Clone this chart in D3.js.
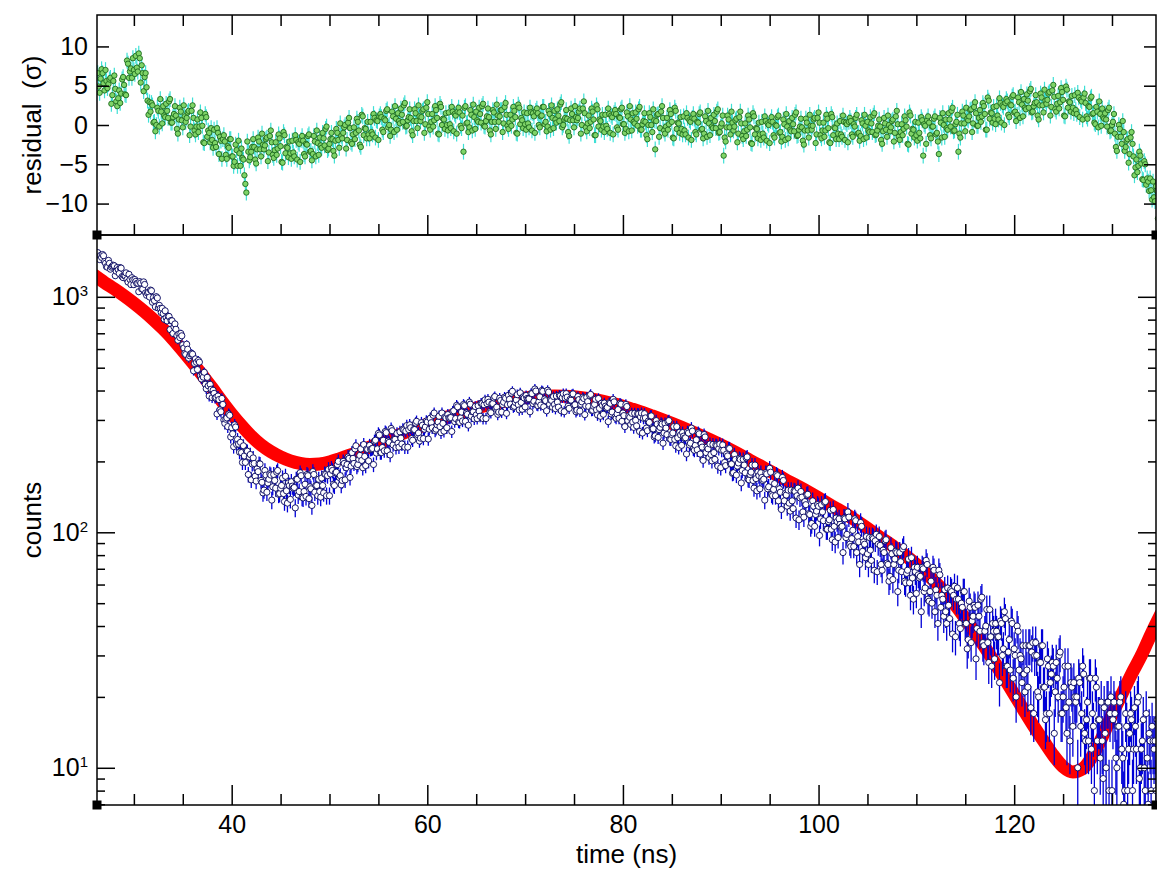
<!DOCTYPE html>
<html>
<head>
<meta charset="utf-8">
<script src="https://cdn.jsdelivr.net/npm/d3@7"></script>
<style>
  body { margin: 0; background: #fff; }
  svg text { font-family: "Liberation Sans", Arial, Helvetica, sans-serif; fill: #000; }
  .domain { display: none; }
  .tick line { stroke: #000; stroke-width: 1.5; }
</style>
</head>
<body>
<div id="chart"></div>
<script>
// time grid of the measured data (ns)
const timeStart = 26.3;
const timeStep = 0.1;

// measured counts, one value every 0.1 ns (one row of 10 per ns)
const counts = [
  1541,1477,1439,1500,1470,1512,1494,1410,1388,1342,
  1335,1428,1387,1310,1336,1350,1362,1354,1229,1284,
  1332,1304,1256,1330,1324,1219,1206,1231,1229,1264,
  1185,1155,1246,1185,1127,1205,1181,1126,1184,1163,
  1139,1143,1051,1160,1144,1081,1078,1157,1128,1039,
  1015,1037,1046,998,1068,1061,948,993,964,906,
  1001,989,896,920,893,857,893,848,803,872,
  816,790,828,825,726,793,791,699,745,767,
  728,684,654,695,671,699,683,625,606,575,
  569,629,599,549,562,572,575,571,485,521,
  545,527,491,537,528,462,448,464,456,478,
  425,407,455,419,379,425,405,373,401,389,
  372,374,318,379,366,331,325,370,349,300,
  290,302,306,281,318,314,254,278,262,231,
  286,280,236,248,237,219,241,218,198,233,
  211,198,222,221,176,209,214,167,195,207,
  196,173,165,186,181,196,195,166,163,147,
  151,183,175,148,162,168,177,175,137,156,
  176,166,154,180,183,145,146,154,158,170,
  146,135,173,150,133,162,158,138,164,157,
  154,155,127,168,168,144,149,179,174,141,
  140,149,160,142,176,174,139,156,153,130,
  181,176,148,158,158,143,168,149,141,170,
  158,147,177,176,143,174,185,143,177,187,
  183,160,158,179,180,194,200,171,174,159,
  166,200,196,167,188,194,209,206,171,191,
  218,206,196,226,233,190,194,204,212,226,
  202,188,236,210,192,226,225,201,234,225,
  226,227,194,244,246,217,226,263,259,218,
  218,229,246,222,268,265,222,244,241,213,
  276,270,235,248,248,229,263,239,230,267,
  251,237,274,272,230,269,284,230,273,286,
  278,250,246,273,273,291,296,260,264,244,
  251,292,285,250,274,280,297,294,249,274,
  305,292,278,314,321,270,274,286,294,311,
  281,265,321,290,269,309,306,278,316,306,
  305,307,268,326,328,295,304,346,341,294,
  293,306,324,297,349,345,296,321,317,285,
  357,350,311,325,325,303,342,315,304,345,
  327,311,353,352,304,348,365,304,352,367,
  357,325,322,351,352,372,377,336,340,317,
  324,371,363,324,349,357,375,371,320,348,
  382,367,350,390,397,340,343,356,365,384,
  348,331,391,356,333,376,372,341,381,370,
  367,369,325,388,388,352,360,406,398,347,
  345,358,376,347,400,397,341,368,362,328,
  401,394,350,365,363,340,377,349,335,379,
  357,340,382,380,328,373,388,325,372,388,
  375,343,336,367,364,385,387,346,348,325,
  330,377,366,327,350,358,374,370,316,344,
  374,359,342,381,385,329,330,343,349,367,
  331,315,370,336,311,353,346,317,354,343,
  337,339,295,355,353,318,324,367,358,309,
  305,318,332,305,353,350,296,321,313,281,
  349,342,298,312,308,287,320,294,279,320,
  299,283,319,318,268,309,321,264,305,319,
  306,277,270,297,293,312,312,275,275,254,
  257,298,288,253,273,279,291,288,239,264,
  290,277,260,295,298,249,248,260,264,281,
  248,233,281,252,229,266,259,234,265,256,
  251,252,215,267,264,235,239,277,269,226,
  223,234,247,224,265,262,215,237,230,202,
  260,254,218,230,226,208,237,214,201,236,
  218,204,235,233,191,227,237,188,223,235,
  223,198,192,215,211,227,227,195,195,178,
  179,214,204,175,191,197,206,204,162,183,
  204,193,179,207,209,168,167,176,180,193,
  166,154,193,169,150,180,174,153,179,171,
  166,168,137,179,177,153,156,187,180,145,
  143,152,161,143,176,174,136,153,148,125,
  171,166,136,146,144,129,151,133,123,151,
  136,126,150,149,115,143,154,113,140,149,
  141,122,116,135,131,144,145,120,119,106,
  109,136,129,106,119,123,131,129,97,114,
  131,122,112,134,135,103,103,111,113,124,
  103,93,125,106,91,115,111,95,114,108,
  105,106,82,115,114,95,98,122,116,89,
  87,94,102,87,114,112,82,96,91,73,
  110,106,83,91,89,78,96,81,73,95,
  84,76,95,94,69,92,98,68,89,96,
  88,73,69,84,82,92,93,74,73,62,
  65,86,81,63,73,77,83,82,56,69,
  82,75,68,85,87,62,61,67,69,77,
  61,54,78,64,52,71,68,55,71,66,
  64,65,46,71,70,56,58,76,73,52,
  51,56,62,50,71,69,46,57,54,41,
  69,66,48,54,52,44,57,46,41,58,
  49,43,57,56,37,54,59,36,52,58,
  52,41,39,50,48,56,56,41,41,32,
  35,51,48,34,42,44,49,48,29,39,
  49,44,38,52,53,34,33,38,40,47,
  34,28,47,36,27,41,38,29,41,38,
  36,36,23,42,41,30,32,46,43,27,
  27,31,35,26,42,41,24,32,30,20,
  40,38,26,30,29,23,33,25,21,33,
  26,22,33,33,18,31,34,17,30,34,
  30,21,20,28,28,33,33,22,22,16,
  17,29,27,17,23,25,28,27,14,21,
  28,24,20,30,31,17,17,20,22,27,
  18,14,27,19,13,23,22,15,23,20,
  19,20,10,24,23,15,17,27,25,14,
  13,16,19,13,24,24,12,17,15,8,
  24,22,13,16,16,11,19,13,9,18,
  14,10,19,19,8,17,20,8,16,19,
  17,11,10,15,15,19,20,12,11,7,
  8,17,15,8,12,14,17,16,8,12,
  18,15,12,19,20,9,10,12,13,16,
  10,8,17,11,7,14,13,8,15,13,
  12,13,8,16,16,10,11,19,17,8
];

// residuals in units of sigma, same time grid
const residual = [
  6.6,4.9,4.1,5.9,7.1,6.6,5.3,4.4,7.0,5.6,
  4.7,5.2,5.8,6.0,2.7,3.8,5.6,6.3,4.6,3.0,
  2.4,3.4,4.4,2.8,4.0,5.8,6.1,5.1,3.9,3.8,
  8.2,7.8,6.0,6.8,7.2,6.0,8.5,7.0,6.5,8.8,
  7.3,6.8,9.1,8.5,5.4,7.6,6.6,4.3,6.1,6.6,
  4.8,3.1,1.3,2.9,1.7,2.8,2.5,0.3,0.4,-0.8,
  0.0,2.2,1.8,-0.2,3.3,1.7,0.2,2.4,1.2,1.0,
  2.7,1.8,0.9,3.0,3.3,0.3,0.3,1.0,1.4,2.4,
  1.2,-0.5,-1.1,0.7,2.2,1.7,0.6,-0.3,2.5,1.1,
  0.4,0.9,1.6,1.8,-1.3,-0.2,1.8,2.5,0.9,-0.7,
  -1.2,-0.2,0.7,-0.9,-0.2,1.6,0.9,-0.1,-2.2,-2.3,
  1.4,1.0,-1.5,-0.7,-1.0,-2.2,-0.4,-1.9,-2.9,-0.6,
  -2.3,-2.8,-0.4,-1.0,-3.7,-1.5,-2.0,-4.3,-1.8,-1.3,
  -2.1,-3.8,-4.3,-2.7,-2.9,-1.8,-1.8,-4.0,-4.0,-5.2,
  -4.7,-2.5,-3.2,-5.2,-2.0,-3.6,-5.2,-3.0,-4.2,-4.4,
  -6.4,-7.5,-8.6,-2.1,-3.4,-4.5,-4.1,-3.4,-2.8,-1.8,
  -2.8,-4.4,-4.9,-3.1,-1.6,-2.1,-3.1,-4.0,-1.1,-2.5,
  -3.1,-2.6,-1.8,-1.6,-4.6,-3.5,-1.4,-0.7,-2.2,-3.8,
  -4.2,-3.2,-2.2,-3.8,-3.0,-1.2,-1.7,-2.7,-4.7,-4.8,
  -0.9,-1.3,-3.6,-2.8,-2.9,-4.1,-2.1,-3.6,-4.3,-2.0,
  -3.5,-4.0,-1.3,-1.9,-4.4,-2.2,-2.4,-4.7,-1.9,-1.4,
  -2.0,-3.7,-4.0,-2.4,-2.5,-1.4,-1.2,-3.4,-3.3,-4.5,
  -3.7,-1.4,-2.1,-4.0,-0.7,-2.3,-3.8,-1.6,-2.6,-2.9,
  -1.0,-1.7,-2.6,-0.5,-0.2,-3.2,-3.0,-2.4,-1.8,-1.0,
  -1.8,-3.3,-3.9,-2.0,-0.5,-1.0,-1.9,-2.9,0.2,-1.4,
  -1.7,-1.0,-0.3,0.0,-3.0,-1.9,0.3,0.9,-0.4,-2.2,
  -2.4,-1.2,-0.3,-1.8,-1.0,0.8,0.4,-0.7,-2.5,-2.8,
  1.3,1.1,-1.3,-0.4,-0.5,-1.7,0.4,-1.2,-1.7,0.4,
  -0.9,-1.2,1.4,0.9,-1.6,0.6,0.5,-1.9,1.1,1.4,
  1.0,-0.6,-0.9,0.8,0.6,1.8,2.0,-0.3,0.0,-1.4,
  -0.6,1.7,1.1,-0.9,2.4,0.8,-0.6,1.5,0.5,0.2,
  2.1,1.3,0.4,2.5,2.8,-0.2,-0.1,0.6,1.0,2.0,
  0.9,-0.8,-1.3,0.5,2.0,1.5,0.5,-0.4,2.5,1.1,
  0.5,1.0,1.8,2.0,-1.0,0.1,2.2,2.9,1.4,-0.2,
  -0.6,0.4,1.4,-0.2,0.6,2.4,1.9,0.9,-1.1,-1.2,
  2.7,2.3,0.0,0.8,0.7,-0.5,1.5,0.0,-0.7,1.6,
  0.1,-0.4,2.3,1.7,-0.8,1.4,1.2,-1.1,1.7,2.2,
  1.6,-0.1,-0.4,1.2,-3.4,2.2,2.4,0.2,0.3,-0.9,
  -0.3,1.9,1.3,-0.7,2.6,1.0,-0.5,1.7,0.6,0.4,
  2.2,1.4,0.3,2.4,2.7,-0.1,-0.2,0.5,1.1,2.1,
  1.0,-0.7,-1.2,0.4,1.9,1.6,0.4,-0.5,2.6,1.2,
  0.4,1.1,1.9,1.9,-0.9,0.2,2.3,2.8,1.3,-0.1,
  -0.5,0.3,1.3,-0.1,0.7,2.3,1.8,1.0,-1.0,-1.1,
  2.6,2.2,0.1,0.9,0.6,-0.4,1.6,0.1,-0.6,1.5,
  0.2,-0.3,2.2,1.6,-0.7,1.5,1.1,-1.0,1.8,2.1,
  1.5,0.0,-0.3,1.1,1.2,2.3,2.3,0.1,0.4,-0.8,
  -0.2,1.8,1.4,-0.6,2.5,0.9,-0.4,1.8,0.7,0.3,
  2.0,1.2,0.5,2.6,2.9,-0.3,0.0,0.7,0.9,1.9,
  0.8,-0.9,-1.4,0.6,2.1,1.4,0.6,-0.3,2.4,1.0,
  0.6,0.9,1.7,2.1,-1.1,0.0,2.1,3.0,1.5,-0.3,
  -0.8,0.2,1.2,-0.4,0.4,2.1,1.7,0.7,-1.3,-1.3,
  2.5,2.0,-0.2,0.7,0.5,-0.6,1.3,-0.2,-0.9,1.3,
  -0.1,-0.5,2.1,1.4,-1.0,1.2,1.0,-1.2,1.5,1.9,
  1.4,-0.3,-0.6,1.0,0.9,2.0,2.2,0.1,0.1,-1.0,
  -0.5,1.6,1.1,-0.8,2.4,0.7,-0.7,1.5,0.4,0.2,
  1.6,0.8,-0.1,2.0,2.3,-0.6,-0.6,0.1,0.5,1.5,
  0.4,-1.3,-1.8,0.0,1.5,1.0,0.0,-0.9,2.0,0.6,
  -3.1,0.5,1.3,1.4,-1.5,-0.4,1.7,2.4,0.9,-0.7,
  -1.1,-0.2,0.9,-0.6,0.1,1.9,1.4,0.4,-1.6,-1.7,
  2.2,1.8,-0.5,0.3,0.2,-1.0,1.0,-0.5,-1.2,1.1,
  -0.7,-1.2,1.5,0.9,-1.6,0.6,0.4,-1.9,0.9,1.4,
  0.8,-0.9,-1.2,0.4,0.3,1.4,1.6,-0.6,-0.5,-1.7,
  -1.1,1.1,0.5,-1.5,1.8,0.2,-1.3,0.9,-0.2,-0.4,
  1.3,0.5,-0.4,1.7,2.0,-1.0,-0.9,-0.2,0.2,1.2,
  -3.9,-1.6,-2.1,-0.3,1.2,0.7,-0.3,-1.2,1.7,0.3,
  -0.7,-0.2,0.6,0.8,-2.2,-1.1,1.0,1.7,0.2,-1.4,
  -1.8,-0.8,0.2,-1.4,-0.6,1.2,0.7,-0.3,-2.3,-2.4,
  1.5,1.1,-1.2,-0.4,-0.5,-1.7,0.3,-1.2,-1.9,0.4,
  -1.1,-1.6,1.1,0.5,-2.0,0.2,0.0,-2.3,0.5,1.0,
  0.4,-1.3,-1.6,0.0,-0.1,1.0,1.2,-1.0,-0.9,-2.1,
  -1.5,0.7,0.1,-1.9,1.4,-0.2,-1.7,0.5,-0.6,-0.8,
  0.9,0.1,-0.8,1.3,1.6,-1.4,-1.3,-0.6,-0.2,0.8,
  -0.3,-2.0,-2.5,-0.7,0.8,0.3,-0.7,-1.6,1.3,-0.1,
  -0.6,-0.1,0.7,0.9,-2.3,-1.2,0.9,1.6,0.3,-1.3,
  -1.7,-0.7,0.3,-1.5,-0.7,1.3,0.8,-0.4,-2.2,-2.3,
  1.4,1.0,-1.3,-0.3,-0.4,-1.8,0.2,-1.1,-1.8,0.5,
  -1.2,-1.5,1.2,0.4,-1.9,0.3,0.1,-2.2,0.4,0.9,
  0.5,-1.2,-1.5,0.1,-0.2,0.9,1.3,-1.1,-1.0,-2.0,
  -1.4,0.6,0.2,-1.8,1.3,-0.1,-1.6,0.4,-0.7,-0.9,
  1.0,0.2,-0.9,1.2,1.5,-1.3,-1.2,-0.7,-0.1,0.7,
  -0.2,-1.9,-2.4,-0.8,0.9,0.2,-0.6,-1.5,1.2,0.0,
  -0.8,-0.3,0.5,0.7,-2.1,-1.0,1.1,1.8,0.1,-1.5,
  -1.9,-0.9,0.1,-1.3,-0.5,1.1,0.6,-0.2,-2.4,-2.5,
  1.6,1.2,-1.1,-0.5,-0.6,-1.6,0.4,-1.3,-2.0,0.3,
  -1.0,-1.7,1.0,0.6,-3.9,0.1,-0.1,-2.4,0.6,1.1,
  0.3,-1.3,-1.7,-0.2,-0.2,0.8,1.1,-1.2,-1.0,-2.1,
  -3.7,0.9,0.3,-1.6,1.5,0.0,-1.5,0.7,-0.4,-0.6,
  1.5,0.7,-0.2,1.8,2.2,-0.8,-0.7,0.1,0.4,1.3,
  -3.4,-1.1,-1.6,0.2,1.7,1.2,0.2,-0.8,2.2,0.8,
  0.6,1.1,1.9,2.0,-0.9,0.2,2.3,2.9,1.5,-0.1,
  -0.1,0.9,1.9,0.4,1.1,2.8,2.4,1.4,-0.6,-0.6,
  3.5,3.1,0.8,1.6,1.5,0.3,2.3,0.8,0.1,2.4,
  1.2,0.7,3.4,2.8,0.3,2.5,2.3,0.0,2.8,3.3,
  3.0,1.3,1.0,2.6,2.5,3.6,3.8,1.6,1.7,0.5,
  1.3,3.5,2.9,0.9,4.2,2.6,1.1,3.3,2.2,2.0,
  3.9,3.1,2.2,4.3,4.6,1.6,1.7,2.4,2.8,3.8,
  2.9,1.2,0.7,2.5,4.0,3.5,2.5,1.6,4.5,3.1,
  2.7,3.2,4.0,4.2,1.2,2.3,4.4,5.1,3.6,2.0,
  1.7,2.7,3.7,2.1,2.9,4.7,4.2,3.2,1.2,1.1,
  4.9,4.5,2.2,3.0,2.9,1.7,3.7,2.2,1.5,3.8,
  1.9,1.4,4.1,3.5,1.0,3.2,3.0,0.7,3.5,4.0,
  2.8,1.1,0.8,2.4,2.3,3.4,3.6,1.4,1.5,0.3,
  0.1,2.3,1.7,-0.3,3.0,1.4,-0.1,2.1,1.0,0.8,
  1.5,0.7,-0.2,1.9,2.2,-0.8,-0.7,0.0,0.4,1.4,
  -1.1,-2.8,-3.3,-1.5,0.0,-0.5,-1.5,-2.4,0.5,-0.9,
  -3.3,-2.8,-2.0,-1.8,-4.8,-3.7,-1.6,-0.9,-2.4,-4.0,
  -6.4,-5.4,-4.4,-6.0,-5.2,-3.4,-3.9,-4.9,-6.9,-7.0,
  -4.6,-5.0,-7.6,-6.8,-7.2,-8.4,-6.8,-8.3,-9.5,-7.2,
  -9.2,-9.7,-7.8,-8.4,-11.9,-9.7,-11.1,-13.4,-11.6,-11.1
];

// model curve (red), one value per ns from 26 to 135
const fitStart = 26;
const fitValues = [
  1230,1150,1080,1010,940,870,800,730,660,590,
  525,465,410,360,318,284,256,235,220,209,
  201,196,194,195,199,205,212,220,229,238,
  248,258,268,278,288,298,308,318,328,337,
  346,354,361,367,372,376,378,379,378,376,
  372,367,360,352,343,333,323,312,301,290,
  279,268,257,246,235,224,213,202,192,182,
  173,164,156,148,140,132,125,118,111,104,
  97,91,85,79,73,67,61,55,49,43,
  37.5,32.5,28,24,20.5,17.5,15,13,11.3,10.1,
  9.6,9.9,11.2,13.5,16.8,20.5,25,30,37,45
];

const xMajor = [40, 60, 80, 100, 120];
const xMinor = [30, 35, 45, 50, 55, 65, 70, 75, 85, 90, 95, 105, 110, 115, 125, 130];
const resTicks = [-10, -5, 0, 5, 10];
const cntMajor = [10, 100, 1000];

const width = 1157, height = 869;
const left = 97, right = 1156, topY = 15, midY = 235, bottomY = 805;

const x = d3.scaleLinear().domain([26.23, 134.5]).range([left, right]);
const yRes = d3.scaleLinear().domain([-14, 14]).range([midY, topY]);
const yCnt = d3.scaleLog().domain([6.95, 1830]).range([bottomY, midY]);

const cntMinor = [];
[1, 10, 100, 1000].forEach(d => {
  for (let k = 2; k <= 9; k++) {
    const v = d * k;
    if (v >= 6.95 && v <= 1830) cntMinor.push(v);
  }
});

const data = counts.map((c, i) => ({
  t: timeStart + i * timeStep,
  c: c,
  err: Math.sqrt(c),           // Poisson error
  r: residual[i]
}));
const fit = fitValues.map((v, i) => ({ t: fitStart + i, v: v }));

const svg = d3.select('#chart').append('svg')
  .attr('width', width)
  .attr('height', height);

const defs = svg.append('defs');
defs.append('clipPath').attr('id', 'clip-top')
  .append('rect').attr('x', left).attr('y', topY).attr('width', right - left).attr('height', midY - topY);
defs.append('clipPath').attr('id', 'clip-bottom')
  .append('rect').attr('x', left).attr('y', midY).attr('width', right - left).attr('height', bottomY - midY);

// ---- residual panel ----
const gTop = svg.append('g').attr('clip-path', 'url(#clip-top)');

gTop.selectAll('line.rerr')
  .data(data)
  .enter()
  .append('line')
  .attr('class', 'rerr')
  .attr('x1', d => x(d.t))
  .attr('x2', d => x(d.t))
  .attr('y1', d => yRes(d.r - 1))
  .attr('y2', d => yRes(d.r + 1))
  .attr('stroke', '#3ee0d6')
  .attr('stroke-width', 1.2);

gTop.selectAll('circle')
  .data(data)
  .enter()
  .append('circle')
  .attr('cx', d => x(d.t))
  .attr('cy', d => yRes(d.r))
  .attr('r', 2.7)
  .attr('fill', '#7fd468')
  .attr('stroke', '#1d6a1d')
  .attr('stroke-width', 0.9);

// ---- counts panel ----
const gBot = svg.append('g').attr('clip-path', 'url(#clip-bottom)');

const line = d3.line()
  .x(d => x(d.t))
  .y(d => yCnt(d.v))
  .curve(d3.curveMonotoneX);

gBot.append('path')
  .datum(fit)
  .attr('d', line)
  .attr('fill', 'none')
  .attr('stroke', '#ff0000')
  .attr('stroke-width', 13)
  .attr('stroke-linecap', 'round')
  .attr('stroke-linejoin', 'round');

gBot.selectAll('line.cerr')
  .data(data)
  .enter()
  .append('line')
  .attr('class', 'cerr')
  .attr('x1', d => x(d.t))
  .attr('x2', d => x(d.t))
  .attr('y1', d => yCnt(Math.max(d.c - d.err, 1)))
  .attr('y2', d => yCnt(d.c + d.err))
  .attr('stroke', '#0000d8')
  .attr('stroke-width', 1.3);

gBot.selectAll('circle')
  .data(data)
  .enter()
  .append('circle')
  .attr('cx', d => x(d.t))
  .attr('cy', d => yCnt(d.c))
  .attr('r', 3.1)
  .attr('fill', '#ffffff')
  .attr('stroke', '#00005a')
  .attr('stroke-width', 0.9);

// ---- axes ----
const noLabel = () => '';

// residual panel x ticks (top and bottom edges, pointing inward)
svg.append('g').attr('transform', `translate(0,${topY})`)
  .call(d3.axisTop(x).tickValues(xMajor).tickSize(-20).tickFormat(noLabel));
svg.append('g').attr('transform', `translate(0,${topY})`)
  .call(d3.axisTop(x).tickValues(xMinor).tickSize(-11).tickFormat(noLabel));
svg.append('g').attr('transform', `translate(0,${midY})`)
  .call(d3.axisBottom(x).tickValues(xMajor).tickSize(-20).tickFormat(noLabel));
svg.append('g').attr('transform', `translate(0,${midY})`)
  .call(d3.axisBottom(x).tickValues(xMinor).tickSize(-11).tickFormat(noLabel));

// residual panel y ticks
svg.append('g').attr('transform', `translate(${left},0)`)
  .call(d3.axisLeft(yRes).tickValues(resTicks).tickSize(-12).tickPadding(9))
  .selectAll('text').style('font-size', '25px');
svg.append('g').attr('transform', `translate(${right},0)`)
  .call(d3.axisRight(yRes).tickValues(resTicks).tickSize(-12).tickFormat(noLabel));

// counts panel x axis
svg.append('g').attr('transform', `translate(0,${bottomY})`)
  .call(d3.axisBottom(x).tickValues(xMajor).tickSize(-20).tickPadding(10).tickFormat(d3.format('d')))
  .selectAll('text').style('font-size', '25px');
svg.append('g').attr('transform', `translate(0,${bottomY})`)
  .call(d3.axisBottom(x).tickValues(xMinor).tickSize(-11).tickFormat(noLabel));

// counts panel log y axis
const yLeft = svg.append('g').attr('transform', `translate(${left},0)`)
  .call(d3.axisLeft(yCnt).tickValues(cntMajor).tickSize(-18).tickPadding(9).tickFormat(noLabel));
yLeft.selectAll('.tick text')
  .style('font-size', '25px')
  .text('10')
  .append('tspan')
  .attr('dy', '-0.6em')
  .style('font-size', '15px')
  .text(d => Math.round(Math.log10(d)));
svg.append('g').attr('transform', `translate(${left},0)`)
  .call(d3.axisLeft(yCnt).tickValues(cntMinor).tickSize(-8).tickFormat(noLabel));
svg.append('g').attr('transform', `translate(${right},0)`)
  .call(d3.axisRight(yCnt).tickValues(cntMajor).tickSize(-18).tickFormat(noLabel));
svg.append('g').attr('transform', `translate(${right},0)`)
  .call(d3.axisRight(yCnt).tickValues(cntMinor).tickSize(-8).tickFormat(noLabel));

// frames
const frame = svg.append('g').attr('fill', 'none').attr('stroke', '#000').attr('stroke-width', 1.5);
frame.append('rect').attr('x', left).attr('y', topY).attr('width', right - left).attr('height', midY - topY);
frame.append('rect').attr('x', left).attr('y', midY).attr('width', right - left).attr('height', bottomY - midY);

// corner handles of the selected graph
svg.selectAll('rect.handle')
  .data([[left, midY], [right, midY], [left, bottomY], [right, bottomY]])
  .enter()
  .append('rect')
  .attr('class', 'handle')
  .attr('x', d => d[0] - 4.5)
  .attr('y', d => d[1] - 4.5)
  .attr('width', 9)
  .attr('height', 9)
  .attr('fill', '#000');

// axis titles
svg.append('text')
  .attr('transform', `translate(41, ${(topY + midY) / 2}) rotate(-90)`)
  .attr('text-anchor', 'middle')
  .style('font-size', '26px')
  .style('white-space', 'pre')
  .text('residual  (σ)');

svg.append('text')
  .attr('transform', `translate(41, ${(midY + bottomY) / 2}) rotate(-90)`)
  .attr('text-anchor', 'middle')
  .style('font-size', '26px')
  .text('counts');

svg.append('text')
  .attr('x', (left + right) / 2)
  .attr('y', 863)
  .attr('text-anchor', 'middle')
  .style('font-size', '26px')
  .text('time (ns)');
</script>
</body>
</html>
